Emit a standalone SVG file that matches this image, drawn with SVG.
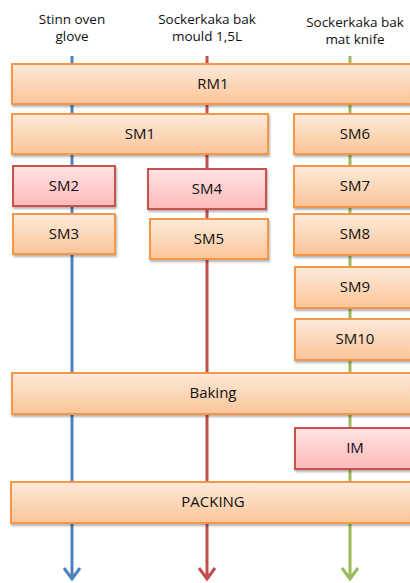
<svg xmlns="http://www.w3.org/2000/svg" width="410" height="583" viewBox="0 0 410 583">
<defs>
<linearGradient id="go" x1="0" y1="0" x2="0" y2="1"><stop offset="0" stop-color="#FDEADA"/><stop offset="1" stop-color="#FBC598"/></linearGradient>
<linearGradient id="gr" x1="0" y1="0" x2="0" y2="1"><stop offset="0" stop-color="#FFE3E3"/><stop offset="1" stop-color="#FFB9B9"/></linearGradient>
<filter id="sh" x="-5%" y="-20%" width="110%" height="150%"><feDropShadow dx="1" dy="2" stdDeviation="1.2" flood-color="#000" flood-opacity="0.3"/></filter>
</defs>
<style>
.o{fill:url(#go);stroke:#F79646;stroke-width:2;filter:url(#sh)}
.r{fill:url(#gr);stroke:#C9514E;stroke-width:2;filter:url(#sh)}
.t{font-family:"Open Sans","Liberation Sans",sans-serif;font-size:15px;fill:#111;text-anchor:middle}
.h{font-family:"Open Sans","Liberation Sans",sans-serif;font-size:13.5px;fill:#111;text-anchor:middle}
.ln{fill:none;stroke-width:3}
</style>
<g id="headers">
<text class="h" x="72" y="24">Stinn oven</text>
<text class="h" x="72" y="41">glove</text>
<text class="h" x="207" y="24">Sockerkaka bak</text>
<text class="h" x="207" y="41">mould 1,5L</text>
<text class="h" x="355" y="27">Sockerkaka bak</text>
<text class="h" x="355" y="44">mat knife</text>
</g>
<g id="connectors">
<path class="ln" stroke="#4F81BD" d="M72 56V579M64 568L72 579L80 568"/>
<path class="ln" stroke="#C0504D" d="M207 56V579M199 568L207 579L215 568"/>
<path class="ln" stroke="#9BBB59" d="M350 56V579M342 568L350 579L358 568"/>
</g>
<g id="RM1"><rect class="o" x="12" y="64" width="404" height="40"/><text class="t" x="213" y="89">RM1</text></g>
<g id="SM1"><rect class="o" x="12" y="114" width="256" height="40"/><text class="t" x="140" y="139">SM1</text></g>
<g id="SM6"><rect class="o" x="294" y="114" width="122" height="40"/><text class="t" x="355" y="139">SM6</text></g>
<g id="SM2"><rect class="r" x="13" y="166" width="102" height="40"/><text class="t" x="64" y="191">SM2</text></g>
<g id="SM3"><rect class="o" x="13" y="214" width="102" height="40"/><text class="t" x="64" y="239">SM3</text></g>
<g id="SM4"><rect class="r" x="148" y="169" width="118" height="40"/><text class="t" x="207" y="194">SM4</text></g>
<g id="SM5"><rect class="o" x="150" y="219" width="118" height="40"/><text class="t" x="209" y="244">SM5</text></g>
<g id="SM7"><rect class="o" x="294" y="166" width="122" height="41"/><text class="t" x="355" y="191">SM7</text></g>
<g id="SM8"><rect class="o" x="294" y="214" width="122" height="41"/><text class="t" x="355" y="239">SM8</text></g>
<g id="SM9"><rect class="o" x="295" y="267" width="121" height="41"/><text class="t" x="355" y="292">SM9</text></g>
<g id="SM10"><rect class="o" x="295" y="319" width="121" height="41"/><text class="t" x="355" y="344">SM10</text></g>
<g id="Baking"><rect class="o" x="12" y="373" width="404" height="41"/><text class="t" x="213" y="398">Baking</text></g>
<g id="IM"><rect class="r" x="295" y="428" width="121" height="41"/><text class="t" x="355" y="453">IM</text></g>
<g id="PACKING"><rect class="o" x="11" y="482" width="405" height="41"/><text class="t" x="213" y="507">PACKING</text></g>
</svg>
